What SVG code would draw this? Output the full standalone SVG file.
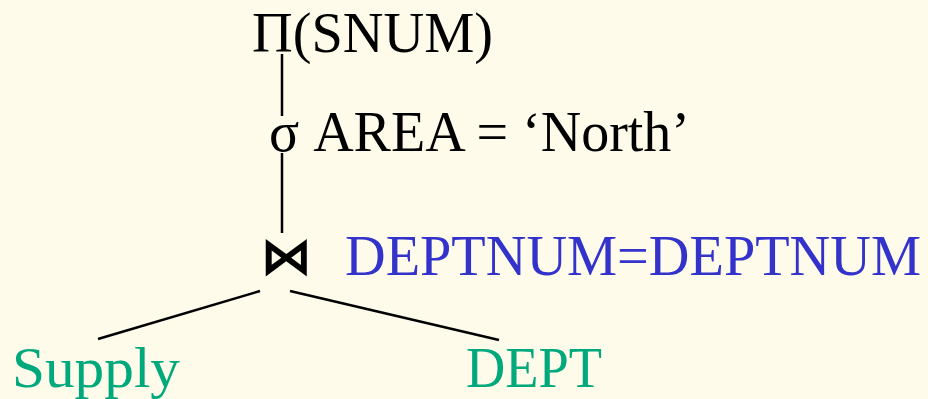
<svg xmlns="http://www.w3.org/2000/svg" width="928" height="399" viewBox="0 0 928 399">
<style>
.t{font-family:"Liberation Serif","DejaVu Serif",serif;font-size:58px}
.k{fill:#000}
.b{fill:#3333cc}
.g{fill:#00a97c}
.e{stroke:#000;stroke-width:2.5;fill:none}
</style>
<rect width="928" height="399" fill="#fefbea"/>
<g id="connectors">
<line class="e" x1="282" y1="54" x2="282" y2="116"/>
<line class="e" x1="282" y1="153" x2="282" y2="233"/>
<line class="e" x1="260" y1="291" x2="98" y2="339"/>
<line class="e" x1="290" y1="291" x2="499" y2="340"/>
</g>
<g id="project"><text class="t k" x="252" y="52" textLength="241" lengthAdjust="spacingAndGlyphs">Π(SNUM)</text></g>
<g id="select"><text class="t k" x="269" y="151" textLength="421" lengthAdjust="spacingAndGlyphs">σ AREA = ‘North’</text></g>
<g id="join">
<text x="286" y="274" text-anchor="middle" style="font-family:'DejaVu Sans',sans-serif;font-size:52px;font-weight:bold" fill="#000">⋈</text>
<text class="t b" x="345" y="275" style="font-size:56.5px" textLength="576" lengthAdjust="spacingAndGlyphs">DEPTNUM=DEPTNUM</text>
</g>
<g id="supply"><text class="t g" x="12" y="387" textLength="168" lengthAdjust="spacingAndGlyphs">Supply</text></g>
<g id="dept"><text class="t g" x="466" y="387" textLength="136" lengthAdjust="spacingAndGlyphs">DEPT</text></g>
</svg>
